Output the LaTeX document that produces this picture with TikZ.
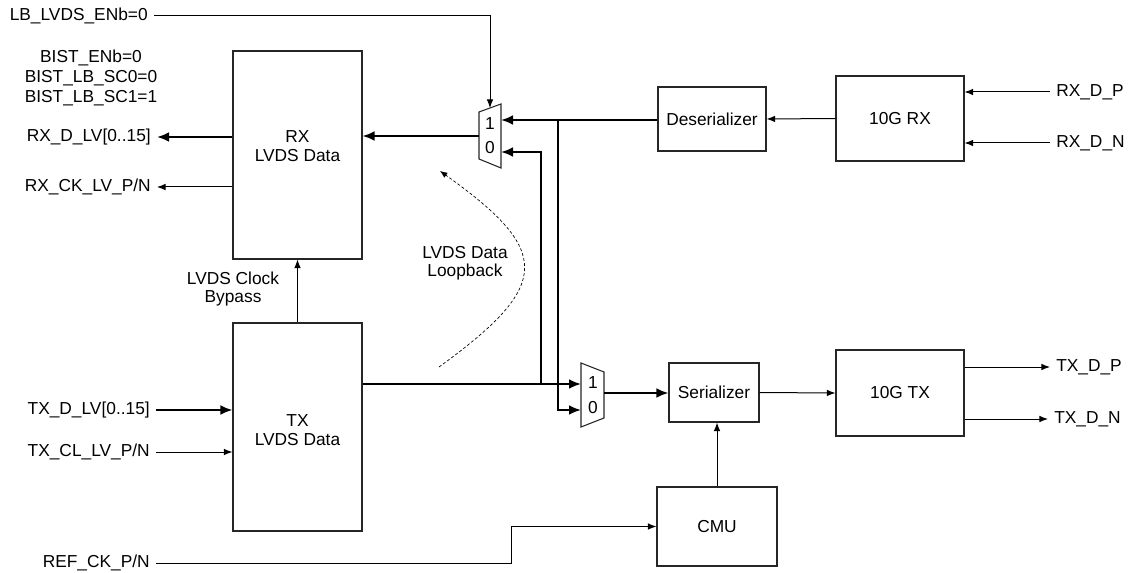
\documentclass[tikz,border=0pt]{standalone}
\usepackage{fontspec}
\setmainfont{Liberation Sans}
\usetikzlibrary{arrows.meta,positioning,calc}

\tikzset{
  blk/.style={draw=black!85,line width=0.8pt,inner sep=0pt},
  lbl/.style={inner sep=4.5pt},
  sig/.style={line width=0.75pt},
  bus/.style={line width=1.8pt},
  arr/.style={sig,-{Latex[length=6.5pt,width=5pt]}},
  busarr/.style={bus,-{Latex[length=9pt,width=7.5pt]}},
  lbarr/.style={line width=0.5pt,dash pattern=on 2.2pt off 1.6pt,-{Latex[length=5.5pt,width=4.5pt]}},
}

\begin{document}
\begin{tikzpicture}[x=0.75pt,y=-0.75pt,font=\fontsize{13}{14}\selectfont]
\useasboundingbox (0,0) rectangle (1134,573);

% blocks
\node[blk,minimum width=96.75pt,minimum height=156pt] (rx) at (297.5,155) {};
\node[align=center] (rxtxt) at (297.5,146) {RX\\LVDS Data};
\node[blk,minimum width=96.75pt,minimum height=156pt] (tx) at (297.5,427) {};
\node[align=center] (txtxt) at (297.5,430) {TX\\LVDS Data};
\node[blk,minimum width=81pt,minimum height=48pt] (des) at (712,119) {Deserializer};
\node[blk,minimum width=96pt,minimum height=63.75pt] (rxg) at (900,118.5) {10G RX};
\node[blk,minimum width=67.5pt,minimum height=44.25pt] (ser) at (714,392.5) {Serializer};
\node[blk,minimum width=96pt,minimum height=64.5pt] (txg) at (900,393) {10G TX};
\node[blk,minimum width=90pt,minimum height=59.25pt] (cmu) at (717,526.5) {CMU};

% muxes
\draw[blk] (479,112) -- (501,104) -- (501,168) -- (479,159) -- cycle;
\coordinate (maout) at (479,136);
\coordinate (main1) at (501,120);
\coordinate (main0) at (501,152);
\coordinate (masel) at (490,108);
\node (ma1) at (490,124) {1};
\node (ma0) at (490,148) {0};
\draw[blk] (581,363) -- (604,372) -- (604,418) -- (581,427) -- cycle;
\coordinate (mbin1) at (581,384);
\coordinate (mbin0) at (581,410);
\coordinate (mbout) at (604,393);
\node (mb1) at (593,383) {1};
\node (mb0) at (593,408) {0};

% labels
\node[lbl,anchor=east] (lben) at (154,16) {LB\_LVDS\_ENb=0};
\node[align=center,font=\fontsize{13}{15}\selectfont] (bist) at (91,78) {BIST\_ENb=0\\BIST\_LB\_SC0=0\\BIST\_LB\_SC1=1};
\node[lbl,anchor=east] (rxd) at (157,137) {RX\_D\_LV[0..15]};
\node[lbl,anchor=east] (rxck) at (157,187) {RX\_CK\_LV\_P/N};
\node[lbl,anchor=east] (txd) at (156,410) {TX\_D\_LV[0..15]};
\node[lbl,anchor=east] (txcl) at (156,452) {TX\_CL\_LV\_P/N};
\node[lbl,anchor=east] (refck) at (156,563) {REF\_CK\_P/N};
\node[lbl,anchor=west] (rxdp) at (1050,92) {RX\_D\_P};
\node[lbl,anchor=west] (rxdn) at (1050,143) {RX\_D\_N};
\node[lbl,anchor=west] (txdp) at (1050,367) {TX\_D\_P};
\node[lbl,anchor=west] (txdn) at (1048,419) {TX\_D\_N};
\node[align=center,font=\fontsize{13}{13.5}\selectfont] (byp) at (233,289) {LVDS Clock\\Bypass};
\node[align=center,font=\fontsize{13}{13.5}\selectfont] (lpbk) at (465,263) {LVDS Data\\Loopback};

% receive path
\draw[arr] (rxdp.west) -- (rxg.east |- rxdp.west);
\draw[arr] (rxdn.west) -- (rxg.east |- rxdn.west);
\draw[arr] (rxg.west) -- (des.east);
\draw[busarr] (des.west |- main1) -- (main1);
\draw[busarr] (maout) -- (maout -| rx.east);
\draw[busarr] (rx.west |- rxd.east) -- (rxd.east);
\draw[arr] (rx.west |- rxck.east) -- (rxck.east);
\draw[arr] (lben.east) -| (masel);

% transmit path
\draw[busarr] (txd.east) -- (tx.west |- txd.east);
\draw[arr] (txcl.east) -- (tx.west |- txcl.east);
\draw[arr] (tx.north) -- (rx.south);
\draw[busarr] (tx.east |- mbin1) -- (mbin1);
\draw[busarr] (mbout) -- (ser.west |- mbout);
\draw[arr] (ser.east) -- (txg.west);
\draw[arr] (txg.east |- txdp.west) -- (txdp.west);
\draw[arr] (txg.east |- txdn.west) -- (txdn.west);
\draw[arr] (cmu.north) -- (cmu.north |- ser.south);
\draw[arr] (refck.east) -- ++(355,0) |- (cmu.west);

% loopbacks
\coordinate (ja) at (558,120);
\coordinate (jb) at (541,384);
\draw[busarr] (ja) |- (mbin0);
\draw[busarr] (jb) |- (main0);
\coordinate (lpa) at (439,367);
\coordinate (lpb) at (440,171);
\draw[lbarr] (lpa) .. controls (552,285) and (552,251) .. (lpb);
\end{tikzpicture}
\end{document}
